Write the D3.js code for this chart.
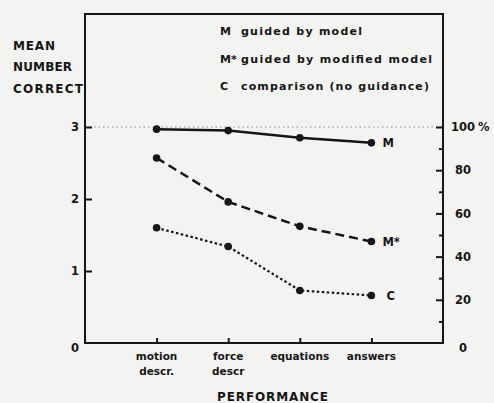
<!DOCTYPE html>
<html><head><meta charset="utf-8">
<script src="https://cdn.jsdelivr.net/npm/d3@7"></script>
<style>body{margin:0;background:#f3f3f1}svg{display:block}</style>
</head><body><svg id="c" width="494" height="403"></svg>
<script>
// ---- data ----
const categories = ["motion descr.", "force descr", "equations", "answers"];
const categoryLines = [["motion", "descr."], ["force", "descr"], ["equations"], ["answers"]];
const seriesM = [2.97, 2.95, 2.85, 2.78];
const seriesMstar = [2.57, 1.96, 1.62, 1.41];
const seriesC = [1.60, 1.34, 0.73, 0.66];
const leftTicks = [0, 1, 2, 3];
const rightMajorTicks = [0, 20, 40, 60, 80, 100];
const rightMinorTicks = [10, 30, 50, 70, 90];
const legendKeys = ["M", "M*", "C"];
const legendTexts = ["guided by model", "guided by modified model", "comparison (no guidance)"];
const yTitle = ["MEAN", "NUMBER", "CORRECT"];
const xTitle = "PERFORMANCE";

// ---- layout ----
const L = 85, R = 443, T = 14, B = 343;
const ink = "#161616";
const font = "DejaVu Sans, sans-serif";
const svg = d3.select("#c");
svg.append("rect").attr("width", 494).attr("height", 403).attr("fill", "#f3f3f1");

const x = d3.scalePoint().domain(categories).range([L, R]).padding(1);
const y = d3.scaleLinear().domain([0, 3]).range([B, 127]);
const yR = d3.scaleLinear().domain([0, 100]).range([B, 127]);

// reference dotted line at 3 (=100%)
svg.append("line").attr("x1", L).attr("x2", R).attr("y1", y(3)).attr("y2", y(3))
  .attr("stroke", "#8a8a8a").attr("stroke-width", 1.1).attr("stroke-dasharray", "1.5,3");

// frame
svg.append("rect").attr("x", L).attr("y", T).attr("width", R - L).attr("height", B - T)
  .attr("fill", "none").attr("stroke", ink).attr("stroke-width", 2);

function styleAxis(g) {
  g.select(".domain").remove();
  g.selectAll(".tick line").attr("stroke", ink).attr("stroke-width", 2);
  g.selectAll(".tick text").remove();
}
// left axis ticks (inward)
svg.append("g").attr("transform", `translate(${L},0)`)
  .call(d3.axisLeft(y).tickValues(leftTicks.filter(d => d > 0)).tickSize(-7)).call(styleAxis);
svg.append("g").selectAll("text").data(leftTicks).join("text")
  .attr("x", 75).attr("y", d => y(d) + (d === 0 ? 5 : 0)).attr("dy", "0.36em")
  .attr("text-anchor", "middle").attr("font-family", font).attr("font-weight", "bold")
  .attr("font-size", 11.5).attr("fill", ink).text(d => d);

// right axis ticks
svg.append("g").attr("transform", `translate(${R},0)`)
  .call(d3.axisRight(yR).tickValues(rightMajorTicks.filter(d => d > 0)).tickSize(-7)).call(styleAxis);
svg.append("g").attr("transform", `translate(${R},0)`)
  .call(d3.axisRight(yR).tickValues(rightMinorTicks).tickSize(-4)).call(styleAxis);
svg.append("g").selectAll("text").data(rightMajorTicks).join("text")
  .attr("x", 463).attr("y", d => yR(d) + (d === 0 ? 5 : 0)).attr("dy", "0.36em")
  .attr("text-anchor", "middle").attr("font-family", font).attr("font-weight", "bold")
  .attr("font-size", 11.5).attr("fill", ink).text(d => d);
svg.append("text").attr("x", 478).attr("y", yR(100)).attr("dy", "0.36em")
  .attr("font-family", font).attr("font-weight", "bold").attr("font-size", 11.5)
  .attr("fill", ink).text("%");

// bottom ticks
svg.append("g").attr("transform", `translate(0,${B})`)
  .call(d3.axisBottom(x).tickSize(-5)).call(styleAxis);
const catG = svg.append("g");
categories.forEach((c, i) => {
  categoryLines[i].forEach((ln, j) => {
    catG.append("text").attr("x", x(c)).attr("y", B + 17 + j * 15)
      .attr("text-anchor", "middle").attr("font-family", font).attr("font-weight", "bold")
      .attr("font-size", 10.5).attr("fill", ink).text(ln);
  });
});

// series
const series = [
  {key: "M", values: seriesM, dash: null, w: 2.5},
  {key: "M*", values: seriesMstar, dash: "9,5", w: 2.5},
  {key: "C", values: seriesC, dash: "2.5,2.5", w: 2.2}
];
const line = d3.line().x((d, i) => x(categories[i])).y(d => y(d));
series.forEach(s => {
  const g = svg.append("g");
  g.append("path").attr("d", line(s.values)).attr("fill", "none").attr("stroke", ink)
    .attr("stroke-width", s.w).attr("stroke-dasharray", s.dash);
  g.selectAll("circle").data(s.values).join("circle")
    .attr("cx", (d, i) => x(categories[i])).attr("cy", d => y(d)).attr("r", 3.8).attr("fill", ink);
  const last = s.values[s.values.length - 1];
  g.append("text").attr("x", x(categories[3]) + (s.key === "C" ? 15 : 11)).attr("y", y(last)).attr("dy", "0.36em")
    .attr("font-family", font).attr("font-weight", "bold").attr("font-size", 11.5).attr("fill", ink)
    .text(s.key);
});

// legend
const legendY = [31, 59, 86];
const legendW = [121, 191, 188];
legendKeys.forEach((k, i) => {
  svg.append("text").attr("x", 220).attr("y", legendY[i]).attr("dy", "0.36em")
    .attr("font-family", font).attr("font-weight", "bold").attr("font-size", 11).attr("fill", ink).text(k);
  svg.append("text").attr("x", 241).attr("y", legendY[i]).attr("dy", "0.36em")
    .attr("font-family", font).attr("font-weight", "bold").attr("font-size", 11).attr("fill", ink)
    .attr("textLength", legendW[i]).attr("lengthAdjust", "spacing").text(legendTexts[i]);
});

// y title
const yTitleY = [46, 67, 89];
const yTitleW = [42, 59, 70];
yTitle.forEach((t, i) => {
  svg.append("text").attr("x", 13).attr("y", yTitleY[i]).attr("dy", "0.36em")
    .attr("font-family", font).attr("font-weight", "bold").attr("font-size", 12).attr("fill", ink)
    .attr("textLength", yTitleW[i]).attr("lengthAdjust", "spacing").text(t);
});

// x title
svg.append("text").attr("x", 217).attr("y", 401)
  .attr("font-family", font).attr("font-weight", "bold").attr("font-size", 12).attr("fill", ink)
  .attr("textLength", 111).attr("lengthAdjust", "spacing").text(xTitle);
</script></body></html>
